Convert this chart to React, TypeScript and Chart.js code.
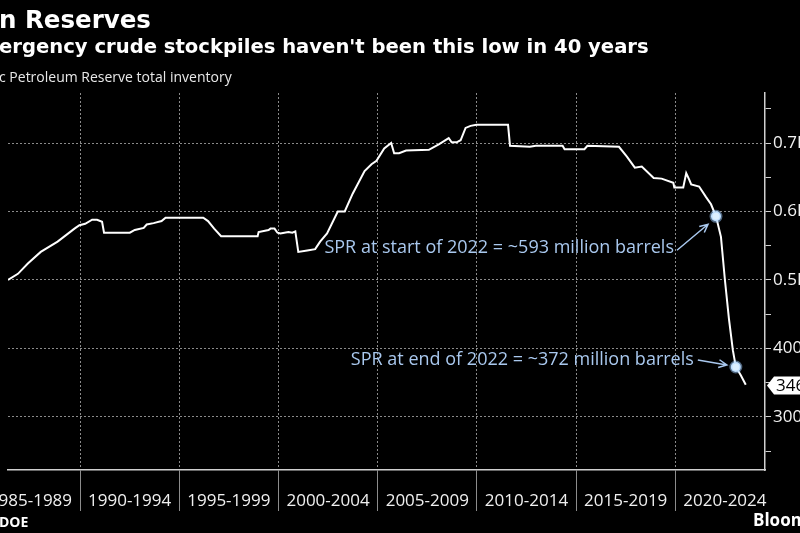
import React, { useEffect, useRef } from 'react';
import { Chart, registerables } from 'chart.js';

Chart.register(...registerables);

const FONT = '"Open Sans", "DejaVu Sans", sans-serif';
const TITLE_FONT = '"DejaVu Sans", "Open Sans", sans-serif';

// SPR total inventory (million barrels), x = decimal year
const years = [
  1986.37, 1986.87, 1987.37, 1988.02, 1988.87, 1989.72, 1989.97, 1990.26, 1990.61, 1990.86,
  1991.11, 1991.21, 1992.51, 1992.76, 1993.21, 1993.36, 1993.71, 1994.11, 1994.31, 1996.21,
  1996.45, 1996.76, 1997.11, 1998.95, 1999.0, 1999.5, 1999.6, 1999.8, 1999.95, 2000.1,
  2000.5, 2000.7, 2000.85, 2001.0, 2001.45, 2001.85, 2002.1, 2002.45, 2002.99, 2003.34,
  2003.74, 2004.34, 2004.69, 2004.94, 2005.33, 2005.68, 2005.83, 2006.08, 2006.43, 2007.58,
  2008.08, 2008.58, 2008.73, 2008.98, 2009.18, 2009.43, 2009.68, 2009.98, 2011.57, 2011.67,
  2012.67, 2012.97, 2014.32, 2014.42, 2015.42, 2015.57, 2017.16, 2017.56, 2017.96, 2018.31,
  2018.91, 2019.31, 2019.9, 2019.95, 2020.4, 2020.55, 2020.7, 2020.8, 2021.2, 2021.55,
  2021.8, 2022.05, 2022.3, 2022.5, 2022.7, 2022.9, 2023.05, 2023.3, 2023.55,
];
const inventory = [
  500, 509, 524, 541, 556, 575, 580, 582, 588, 588,
  585, 569, 569, 573, 576, 581, 583, 586, 591, 591,
  586, 575, 564, 564, 570, 573, 575, 575, 569, 568,
  570, 569, 571, 541, 543, 545, 556, 568, 600, 600,
  626, 659, 669, 674, 692, 700, 685, 685, 689, 690,
  698, 707, 701, 701, 704, 722, 725, 726.5, 726.5, 696,
  694.5, 696, 696, 691, 691, 696, 694.5, 680, 664, 665.5,
  649, 648, 642, 635, 635, 656, 646.5, 639.5, 636.5, 621,
  610.5, 593, 563, 500, 444, 397.5, 373, 361, 347,
];

const periodStarts = [1985, 1990, 1995, 2000, 2005, 2010, 2015, 2020];
const periodLabels = ['1985-1989', '1990-1994', '1995-1999', '2000-2004', '2005-2009', '2010-2014', '2015-2019', '2020-2024'];

const yTickValues = [250, 300, 350, 400, 450, 500, 550, 600, 650, 700, 750];
const yLabelValues = [300, 400, 500, 600, 700];
const yLabelTexts = ['300', '400', '0.5B', '0.6B', '0.7B'];

const annotYears = [2022.05, 2023.05];
const annotValues = [593, 373];
const annotTexts = ['SPR at start of 2022 = ~593 million barrels', 'SPR at end of 2022 = ~372 million barrels'];

const lastValue = 346;
const lastLabel = '346';

const titleText = 'n Reserves';
const subtitleText = "ergency crude stockpiles haven't been this low in 40 years";
const unitText = 'c Petroleum Reserve total inventory';
const sourceText = 'DOE';
const brandText = 'Bloomberg';

const X_MIN = 1986.37;
const X_MAX = 2024.52;
const Y_MIN = 222.6;
const Y_MAX = 773;

const ANNOT_COLOR = '#a9c8ee';
const GRID_COLOR = '#8a8a8a';

function drawArrow(ctx: CanvasRenderingContext2D, x1: number, y1: number, x2: number, y2: number) {
  const ang = Math.atan2(y2 - y1, x2 - x1);
  const head = 9;
  ctx.beginPath();
  ctx.moveTo(x1, y1);
  ctx.lineTo(x2, y2);
  ctx.moveTo(x2 - head * Math.cos(ang - 0.45), y2 - head * Math.sin(ang - 0.45));
  ctx.lineTo(x2, y2);
  ctx.lineTo(x2 - head * Math.cos(ang + 0.45), y2 - head * Math.sin(ang + 0.45));
  ctx.stroke();
}

export default function App() {
  const ref = useRef<HTMLCanvasElement>(null);

  useEffect(() => {
    document.body.style.margin = '0';
    document.body.style.background = '#000';
    document.body.style.overflow = 'hidden';
    const canvas = ref.current!;

    const overlay = {
      id: 'overlay',
      beforeDraw(chart: any) {
        const ctx = chart.ctx;
        ctx.save();
        ctx.fillStyle = '#000';
        ctx.fillRect(0, 0, chart.width, chart.height);
        ctx.restore();
      },
      afterDraw(chart: any) {
        const ctx: CanvasRenderingContext2D = chart.ctx;
        const xs = chart.scales.x;
        const ys = chart.scales.y;
        ctx.save();
        ctx.textBaseline = 'alphabetic';
        ctx.textAlign = 'left';
        ctx.fillStyle = '#fff';
        ctx.font = `bold 24.5px ${TITLE_FONT}`;
        ctx.fillText(titleText, -1, 28);
        ctx.font = `bold 19.6px ${TITLE_FONT}`;
        ctx.fillText(subtitleText, -1, 53);
        ctx.font = `14px ${FONT}`;
        ctx.fillStyle = '#e8e8e8';
        ctx.fillText(unitText, -1, 82);

        // category labels
        ctx.font = `17px ${FONT}`;
        ctx.fillStyle = '#f0f0f0';
        ctx.textAlign = 'center';
        periodStarts.forEach((s, i) => {
          ctx.fillText(periodLabels[i], xs.getPixelForValue(s + 2.5), 506);
        });

        // source + brand
        ctx.textAlign = 'left';
        ctx.fillStyle = '#fff';
        ctx.font = `bold 14px ${FONT}`;
        ctx.fillText(sourceText, -1, 527);
        ctx.font = `bold 17px ${FONT}`;
        ctx.fillText(brandText, 753, 526);

        // annotations
        ctx.strokeStyle = ANNOT_COLOR;
        ctx.fillStyle = ANNOT_COLOR;
        ctx.lineWidth = 1.5;
        ctx.font = `18px ${FONT}`;
        ctx.textBaseline = 'middle';
        ctx.textAlign = 'right';
        const p1x = xs.getPixelForValue(annotYears[0]);
        const p1y = ys.getPixelForValue(annotValues[0]);
        drawArrow(ctx, p1x - 39, p1y + 34, p1x - 8, p1y + 8);
        ctx.fillText(annotTexts[0], p1x - 42, p1y + 32);
        const p2x = xs.getPixelForValue(annotYears[1]);
        const p2y = ys.getPixelForValue(annotValues[1]);
        drawArrow(ctx, p2x - 38, p2y - 7, p2x - 9, p2y - 2);
        ctx.fillText(annotTexts[1], p2x - 42, p2y - 7);

        // last value callout
        const ly = ys.getPixelForValue(lastValue);
        const lx = chart.chartArea.right + 2;
        ctx.fillStyle = '#fff';
        ctx.beginPath();
        ctx.moveTo(lx, ly);
        ctx.lineTo(lx + 7, ly - 9);
        ctx.lineTo(810, ly - 9);
        ctx.lineTo(810, ly + 9);
        ctx.lineTo(lx + 7, ly + 9);
        ctx.closePath();
        ctx.fill();
        ctx.fillStyle = '#000';
        ctx.textAlign = 'left';
        ctx.font = `17px ${FONT}`;
        ctx.fillText(lastLabel, lx + 9, ly + 1);
        ctx.restore();
      },
    };

    const chart = new Chart(canvas, {
      type: 'line',
      data: {
        datasets: [
          {
            data: annotYears.map((x, i) => ({ x, y: annotValues[i] })),
            showLine: false,
            pointRadius: 5,
            pointBackgroundColor: '#dcefff',
            pointBorderColor: 'rgba(160,205,255,0.5)',
            pointBorderWidth: 3,
            order: 1,
          } as any,
          {
            data: years.map((x, i) => ({ x, y: inventory[i] })),
            borderColor: '#ffffff',
            borderWidth: 2,
            pointRadius: 0,
            tension: 0,
            order: 2,
          },
        ],
      },
      options: {
        responsive: false,
        devicePixelRatio: 1,
        animation: false,
        layout: { padding: { top: 93, left: 0, right: 0, bottom: 0 } },
        plugins: { legend: { display: false }, tooltip: { enabled: false }, title: { display: false } },
        scales: {
          x: {
            type: 'linear',
            position: 'bottom',
            min: X_MIN,
            max: X_MAX,
            afterBuildTicks: (s: any) => {
              s.ticks = periodStarts.filter((v) => v > X_MIN && v < X_MAX).map((value) => ({ value }));
            },
            afterFit: (s: any) => {
              s.height = 63;
            },
            ticks: { display: false },
            grid: { color: GRID_COLOR, lineWidth: 1, tickColor: '#8c8c8c', tickLength: 41, tickBorderDash: [] },
            border: { display: true, color: '#d0d0d0', width: 1.5, dash: [2, 2] },
          },
          y: {
            type: 'linear',
            position: 'right',
            min: Y_MIN,
            max: Y_MAX,
            afterBuildTicks: (s: any) => {
              s.ticks = yTickValues.map((value) => ({ value }));
            },
            afterFit: (s: any) => {
              s.width = 35;
            },
            ticks: {
              color: '#f2f2f2',
              font: { family: FONT, size: 17 },
              padding: 2,
              callback: (v: any) => {
                const i = yLabelValues.indexOf(Number(v));
                return i >= 0 ? yLabelTexts[i] : '';
              },
            },
            grid: {
              color: (c: any) => (c.tick && yLabelValues.indexOf(c.tick.value) >= 0 ? GRID_COLOR : 'rgba(0,0,0,0)'),
              lineWidth: 1,
              tickColor: '#d0d0d0',
              tickLength: 6,
              tickBorderDash: [],
            },
            border: { display: true, color: '#d0d0d0', width: 1.5, dash: [2, 2] },
          },
        },
      } as any,
      plugins: [overlay],
    });
    return () => chart.destroy();
  }, []);

  return <canvas ref={ref} width={800} height={533} style={{ display: 'block', width: 800, height: 533 }} />;
}
